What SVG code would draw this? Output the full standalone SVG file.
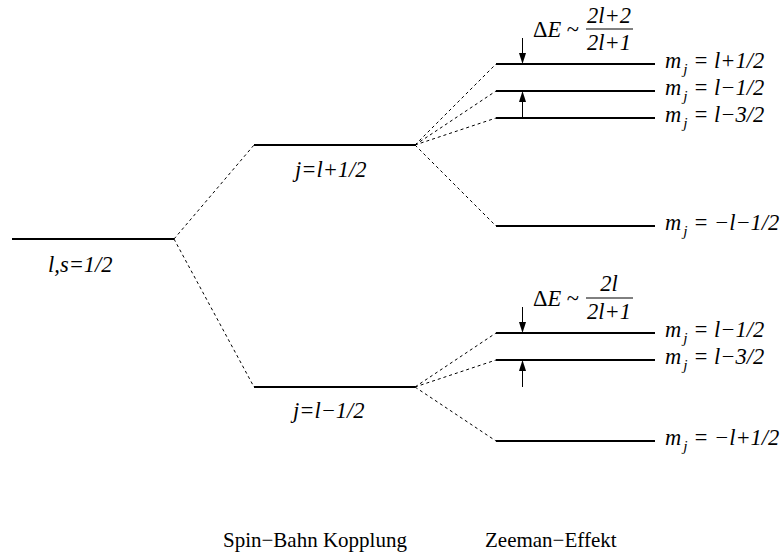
<svg xmlns="http://www.w3.org/2000/svg" width="783" height="556" viewBox="0 0 783 556">
<style>
.lvl{stroke:#000;stroke-width:2;fill:none}
.dash{stroke:#000;stroke-width:1;stroke-dasharray:3,3;fill:none}
.arr{stroke:#000;stroke-width:1;fill:none}
text{font-family:'Liberation Serif','Times New Roman',serif;font-size:21px;fill:#000}
.it{font-style:italic}
.lab{font-size:22.5px}
.sub{font-size:15.5px}
.bar{stroke:#000;stroke-width:1}
</style>
<g id="connectors">
<path class="dash" d="M174,239 L254,145"/>
<path class="dash" d="M174,239 L254,387"/>
<path class="dash" d="M415,145 L496,64"/>
<path class="dash" d="M415,145 L496,91"/>
<path class="dash" d="M415,145 L496,118"/>
<path class="dash" d="M415,145 L496,226"/>
<path class="dash" d="M415,387 L496,333"/>
<path class="dash" d="M415,387 L496,360"/>
<path class="dash" d="M415,387 L496,441"/>
</g>
<g id="level-ls">
<line class="lvl" x1="12" y1="239" x2="174" y2="239"/>
<text class="it lab" x="48" y="272">l,s=1/2</text>
</g>
<g id="level-j-plus">
<line class="lvl" x1="254" y1="145" x2="415" y2="145"/>
<text class="it lab" x="295" y="177">j=l+1/2</text>
</g>
<g id="level-j-minus">
<line class="lvl" x1="254" y1="387" x2="415" y2="387"/>
<text class="it lab" x="293" y="418">j=l−1/2</text>
</g>
<g id="zeeman-upper">
<line class="lvl" x1="496" y1="64" x2="655" y2="64"/>
<line class="lvl" x1="496" y1="91" x2="655" y2="91"/>
<line class="lvl" x1="496" y1="118" x2="655" y2="118"/>
<line class="lvl" x1="496" y1="226" x2="655" y2="226"/>
<text class="it lab" x="665" y="68">m<tspan class="sub" dx="2" dy="6">j</tspan><tspan dy="-6"> = l+1/2</tspan></text>
<text class="it lab" x="665" y="95">m<tspan class="sub" dx="2" dy="6">j</tspan><tspan dy="-6"> = l−1/2</tspan></text>
<text class="it lab" x="665" y="122">m<tspan class="sub" dx="2" dy="6">j</tspan><tspan dy="-6"> = l−3/2</tspan></text>
<text class="it lab" x="665" y="230">m<tspan class="sub" dx="2" dy="6">j</tspan><tspan dy="-6"> = −l−1/2</tspan></text>
</g>
<g id="delta-upper">
<line class="arr" x1="522.5" y1="38" x2="522.5" y2="54"/>
<path d="M519,53 L526,53 L522.5,64 Z" fill="#000"/>
<line class="arr" x1="522.5" y1="118" x2="522.5" y2="101"/>
<path d="M519,102 L526,102 L522.5,91 Z" fill="#000"/>
<text class="lab" x="533" y="37">Δ<tspan class="it">E</tspan> ~</text>
<text class="it lab" x="609" y="23" text-anchor="middle">2l+2</text>
<line class="bar" x1="586" y1="29" x2="633" y2="29"/>
<text class="it lab" x="609" y="50" text-anchor="middle">2l+1</text>
</g>
<g id="zeeman-lower">
<line class="lvl" x1="496" y1="333" x2="655" y2="333"/>
<line class="lvl" x1="496" y1="360" x2="655" y2="360"/>
<line class="lvl" x1="496" y1="441" x2="655" y2="441"/>
<text class="it lab" x="665" y="337">m<tspan class="sub" dx="2" dy="6">j</tspan><tspan dy="-6"> = l−1/2</tspan></text>
<text class="it lab" x="665" y="364">m<tspan class="sub" dx="2" dy="6">j</tspan><tspan dy="-6"> = l−3/2</tspan></text>
<text class="it lab" x="665" y="445">m<tspan class="sub" dx="2" dy="6">j</tspan><tspan dy="-6"> = −l+1/2</tspan></text>
</g>
<g id="delta-lower">
<line class="arr" x1="522.5" y1="307" x2="522.5" y2="323"/>
<path d="M519,322 L526,322 L522.5,333 Z" fill="#000"/>
<line class="arr" x1="522.5" y1="387" x2="522.5" y2="370"/>
<path d="M519,371 L526,371 L522.5,360 Z" fill="#000"/>
<text class="lab" x="533" y="306">Δ<tspan class="it">E</tspan> ~</text>
<text class="it lab" x="609" y="291" text-anchor="middle">2l</text>
<line class="bar" x1="586" y1="298" x2="633" y2="298"/>
<text class="it lab" x="609" y="319" text-anchor="middle">2l+1</text>
</g>
<g id="captions">
<text x="223" y="547">Spin−Bahn Kopplung</text>
<text x="485" y="547">Zeeman−Effekt</text>
</g>
</svg>
